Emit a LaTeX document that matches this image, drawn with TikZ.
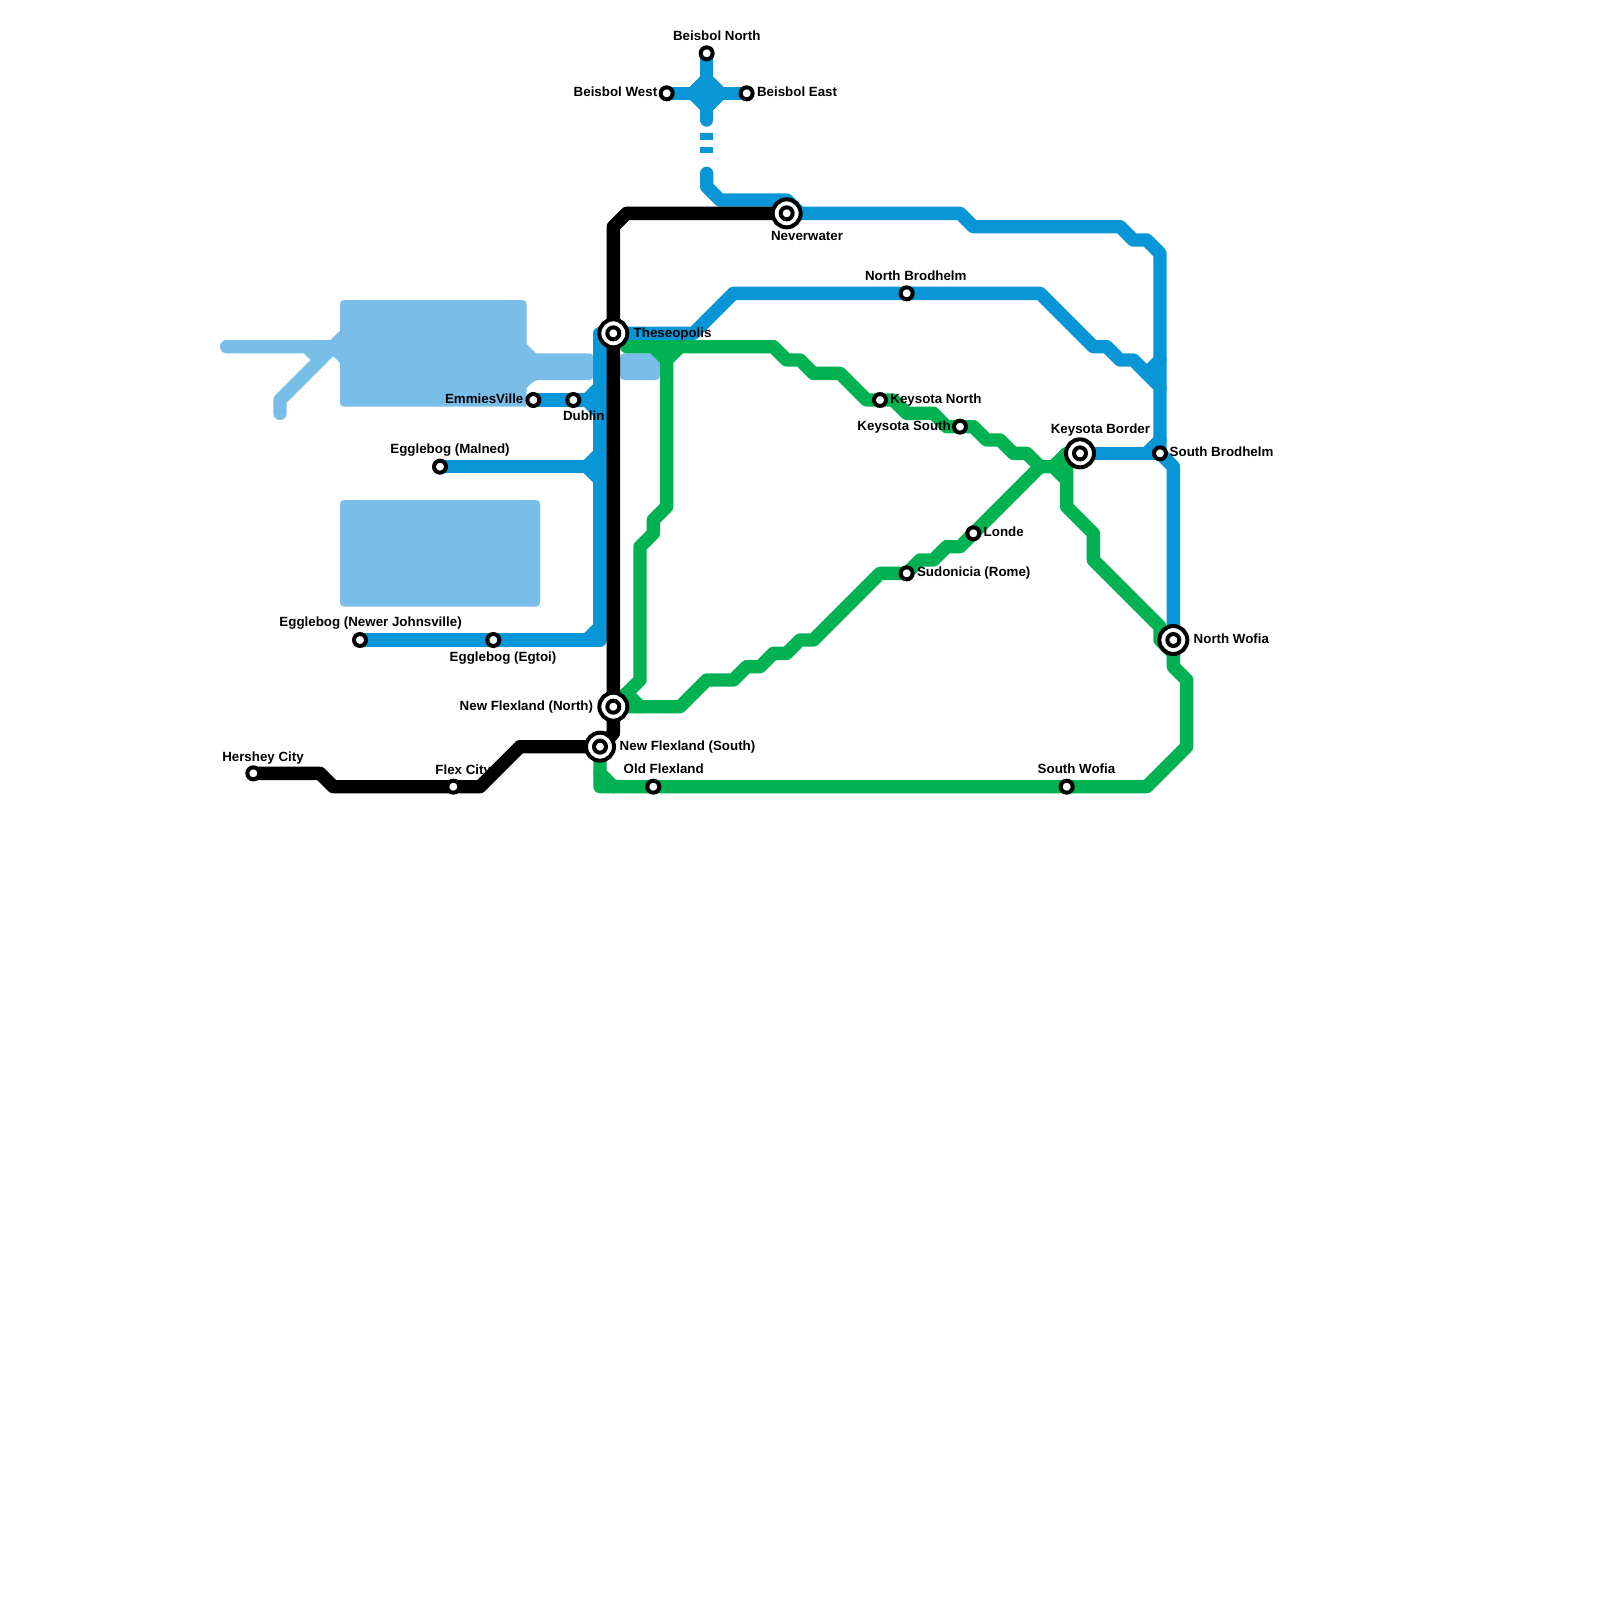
\documentclass[tikz,border=0pt]{standalone}
\usepackage{fontspec}
\setmainfont{Liberation Sans}
\usetikzlibrary{backgrounds}
\definecolor{cblue}{HTML}{0896D7}
\definecolor{clight}{HTML}{79BDE9}
\definecolor{cgreen}{HTML}{00B251}
\tikzset{
  track/.style={draw=#1, line width=10pt, line cap=round, line join=round},
  track/.default=black,
  stn/.style={circle, draw=black, fill=white, line width=3pt, minimum size=9pt, inner sep=0pt, outer sep=0pt},
  hub/.style={circle, draw=black, fill=white, line width=3pt, minimum size=21pt, inner sep=0pt, outer sep=0pt},
  lbl/.style={anchor=west, font=\bfseries\fontsize{10}{10}\selectfont, inner sep=0pt, text height=7pt, text depth=2pt, xshift=-0.4pt, yshift=-1.3pt},
  block/.style={fill=clight, rounded corners=3pt},
}
\begin{document}
\begin{tikzpicture}[x=10pt, y=-10pt]
  \useasboundingbox (0,0) rectangle (120,120);
  \foreach \n/\x/\y in {theseo/46/25, neverw/59/16, flexn/46/53, flexs/45/56, kbord/81/34, nwofia/88/48} {
    \node[hub] (\n) at (\x,\y) {};
    \node[stn] (\n i) at (\x,\y) {};
  }
  \foreach \n/\x/\y in {bnorth/53/4, bwest/50/7, beast/56/7, emmies/40/30, dublin/43/30, malned/33/35, newerj/27/48, egtoi/37/48,
    hershey/19/58, flexc/34/59, oldflex/49/59, swofia/80/59, nbrod/68/22, sbrod/87/34, knorth/66/30, ksouth/72/32, londe/73/40, sudon/68/43}
    \node[stn] (\n) at (\x,\y) {};
  \coordinate (bsouth) at (53,9);
  \coordinate (gapa) at (53,10);
  \coordinate (gapb) at (53,11.5);
  \coordinate (bresume) at (53,13);
  \coordinate (lwest) at (17,26);
  \coordinate (lsouth) at (21,31);
  \begin{scope}[on background layer]
    % light blue blocks
    \fill[block] (25.5,30.5) -- (25.5,22.5) -- (39.5,22.5) [sharp corners] -- (39.5,25.8) -- (40.2,26.5) [rounded corners=3pt] -- (44.5,26.5) -- (44.5,28.5) -- (40.1,28.5) [sharp corners] -- (39.5,29.1) -- (39.5,30.5) [rounded corners=3pt] -- (25.5,30.5) -- cycle;
    \fill[block] (25.5,37.5) rectangle (40.5,45.5);
    \fill[block] (46.5,26.5) rectangle (49.5,28.5);
    \draw[track=clight] (lwest) -- (25,26) -- (26,27);
    \draw[track=clight] (lsouth) -- (21,30) -- (26,25);
    \draw[track=clight] (23,26) -- (24,27);
    % blue
    \draw[track=cblue] (bnorth.center) -- (bsouth);
    \draw[track=cblue] (bwest.center) -- (beast.center);
    \fill[cblue] (53,5.25) -- (54.75,7) -- (53,8.75) -- (51.25,7) -- cycle;
    \draw[draw=cblue, line width=10pt, dash pattern=on 5pt off 5pt] (gapa) -- (gapb);
    \draw[track=cblue] (bresume) -- (53,14) -- (54,15) -- (59,15) -- (60,16);
    \draw[track=cblue] (neverw.center) -- (72,16) -- (73,17) -- (84,17) -- (85,18) -- (86,18) -- (87,19) -- (sbrod.center) -- (88,35) -- (nwofia.center);
    \draw[track=cblue] (theseo.center) -- (52,25) -- (55,22) -- (nbrod.center) -- (78,22) -- (82,26) -- (83,26) -- (84,27) -- (85,27) -- (87,29);
    \draw[track=cblue] (theseo.center) -- (45,25) -- (45,48) -- (newerj.center);
    \draw[track=cblue] (emmies.center) -- (44,30);
    \draw[track=cblue] (malned.center) -- (44,35);
    \draw[track=cblue] (kbord.center) -- (sbrod.center);
    \foreach \a/\b/\c/\d in {44/30/45/29, 44/30/45/31, 44/35/45/34, 44/35/45/36, 44/48/45/47, 86/34/87/33, 86/28/87/27}
      \draw[track=cblue] (\a,\b) -- (\c,\d);
    % green
    \draw[track=cgreen] (47,26) -- (58,26) -- (59,27) -- (60,27) -- (61,28) -- (63,28) -- (65,30) -- (knorth.center) -- (67,30) -- (68,31) -- (70,31) -- (71,32) -- (ksouth.center) -- (73,32) -- (74,33) -- (75,33) -- (76,34) -- (77,34) -- (78,35) -- (79,35) -- (80,36) -- (80,38) -- (82,40) -- (82,42) -- (87,47) -- (87,48) -- (88,49) -- (88,50) -- (89,51) -- (89,56) -- (86,59) -- (swofia.center) -- (oldflex.center) -- (45,59) -- (flexs.center);
    \draw[track=cgreen] (78,35) -- (londe.center) -- (72,41) -- (71,41) -- (70,42) -- (69,42) -- (sudon.center) -- (66,43) -- (61,48) -- (60,48) -- (59,49) -- (58,49) -- (57,50) -- (56,50) -- (55,51) -- (53,51) -- (51,53) -- (flexn.center);
    \draw[track=cgreen] (79,35) -- (80,34) -- (80,36);
    \draw[track=cgreen] (80,34) -- (kbord.center);
    \draw[track=cgreen] (flexn.center) -- (48,51) -- (48,41) -- (49,40) -- (49,39) -- (50,38) -- (50,27) -- (49,26);
    \draw[track=cgreen] (50,27) -- (51,26);
    \draw[track=cgreen] (47,52) -- (48,53);
    \draw[track=cgreen] (45,58) -- (46,59);
    % black
    \draw[track] (hershey.center) -- (24,58) -- (25,59) -- (flexc.center) -- (36,59) -- (39,56) -- (flexs.center) -- (46,55) -- (flexn.center) -- (theseo.center) -- (46,17) -- (47,16) -- (neverw.center);
  \end{scope}
  \foreach \x/\y/\t [count=\k] in {50.5/2.62/Beisbol North, 43.05/6.88/Beisbol West, 56.8/6.88/Beisbol East, 57.85/17.62/Neverwater,
    33.4/29.87/EmmiesVille, 42.25/31.12/Dublin, 29.3/33.62/Egglebog (Malned), 20.98/46.62/Egglebog (Newer Johnsville), 33.75/49.2/Egglebog (Egtoi),
    16.69/56.7/Hershey City, 32.68/57.7/Flex City, 34.5/52.88/New Flexland (North), 46.5/55.9/New Flexland (South), 46.8/57.63/Old Flexland,
    77.85/57.63/South Wofia, 89.55/47.88/North Wofia, 87.75/33.88/South Brodhelm, 78.83/32.13/Keysota Border, 66.8/29.87/Keysota North,
    64.33/31.88/Keysota South, 73.8/39.88/Londe, 68.8/42.88/Sudonicia (Rome), 64.9/20.66/North Brodhelm, 47.55/24.92/Theseopolis}
    \node[lbl] (l\k) at (\x,\y) {\t};
\end{tikzpicture}
\end{document}
